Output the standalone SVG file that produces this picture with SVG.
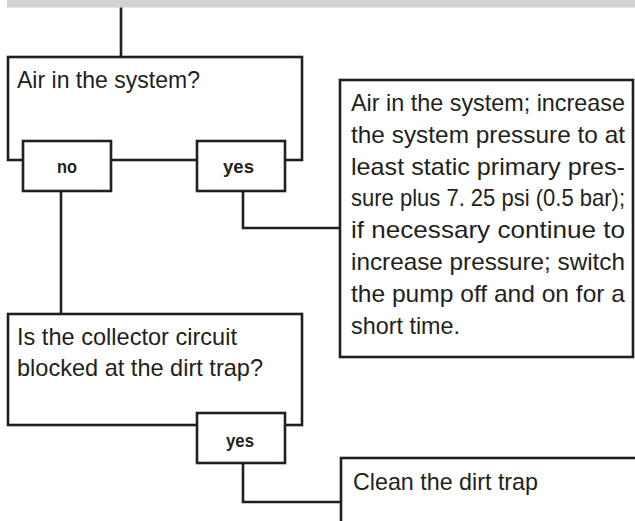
<svg xmlns="http://www.w3.org/2000/svg" width="635" height="521" viewBox="0 0 635 521">
<style>
.box{fill:#fff;stroke:#231f20;stroke-width:2.6}
.ln{fill:none;stroke:#231f20;stroke-width:2.6}
.t{font-family:"Liberation Sans",Arial,sans-serif;font-size:24px;fill:#231f20}
.b{font-family:"Liberation Sans",Arial,sans-serif;font-size:19px;font-weight:bold;fill:#231f20}
</style>
<rect x="7" y="0" width="628" height="7.5" fill="#d2d2d2"/>
<g id="connectors">
<path class="ln" d="M121 7.5V57"/>
<path class="ln" d="M61 191V314"/>
<path class="ln" d="M243 191V228H340"/>
<path class="ln" d="M243 463V502H341"/>
</g>
<g id="q1">
<rect class="box" x="8" y="57" width="294" height="103"/>
<text class="t" x="17" y="88" textLength="183" lengthAdjust="spacingAndGlyphs">Air in the system?</text>
</g>
<g id="no1">
<rect class="box" x="23" y="141" width="88" height="50"/>
<text class="b" x="57" y="173" textLength="20" lengthAdjust="spacingAndGlyphs">no</text>
</g>
<g id="yes1">
<rect class="box" x="197" y="141" width="88" height="50"/>
<text class="b" x="223" y="173" textLength="31" lengthAdjust="spacingAndGlyphs">yes</text>
</g>
<g id="action1">
<rect class="box" x="340" y="80" width="293" height="277"/>
<text class="t" x="351" y="111" textLength="274" lengthAdjust="spacingAndGlyphs">Air in the system; increase</text>
<text class="t" x="351" y="142.8" textLength="274" lengthAdjust="spacingAndGlyphs">the system pressure to at</text>
<text class="t" x="351" y="174.6" textLength="274" lengthAdjust="spacingAndGlyphs">least static primary pres-</text>
<text class="t" x="351" y="206.4" textLength="274" lengthAdjust="spacingAndGlyphs">sure plus 7. 25 psi (0.5 bar);</text>
<text class="t" x="351" y="238.2" textLength="274" lengthAdjust="spacingAndGlyphs">if necessary continue to</text>
<text class="t" x="351" y="270" textLength="274" lengthAdjust="spacingAndGlyphs">increase pressure; switch</text>
<text class="t" x="351" y="301.8" textLength="274" lengthAdjust="spacingAndGlyphs">the pump off and on for a</text>
<text class="t" x="351" y="333.6" textLength="109" lengthAdjust="spacingAndGlyphs">short time.</text>
</g>
<g id="q2">
<rect class="box" x="8" y="314" width="294" height="111"/>
<text class="t" x="17" y="345" textLength="220" lengthAdjust="spacingAndGlyphs">Is the collector circuit</text>
<text class="t" x="17" y="376" textLength="246" lengthAdjust="spacingAndGlyphs">blocked at the dirt trap?</text>
</g>
<g id="yes2">
<rect class="box" x="197" y="413" width="88" height="50"/>
<text class="b" x="226" y="447" textLength="28" lengthAdjust="spacingAndGlyphs">yes</text>
</g>
<g id="action2">
<rect class="box" x="341" y="458" width="320" height="100"/>
<text class="t" x="353" y="490" textLength="185" lengthAdjust="spacingAndGlyphs">Clean the dirt trap</text>
</g>
</svg>
